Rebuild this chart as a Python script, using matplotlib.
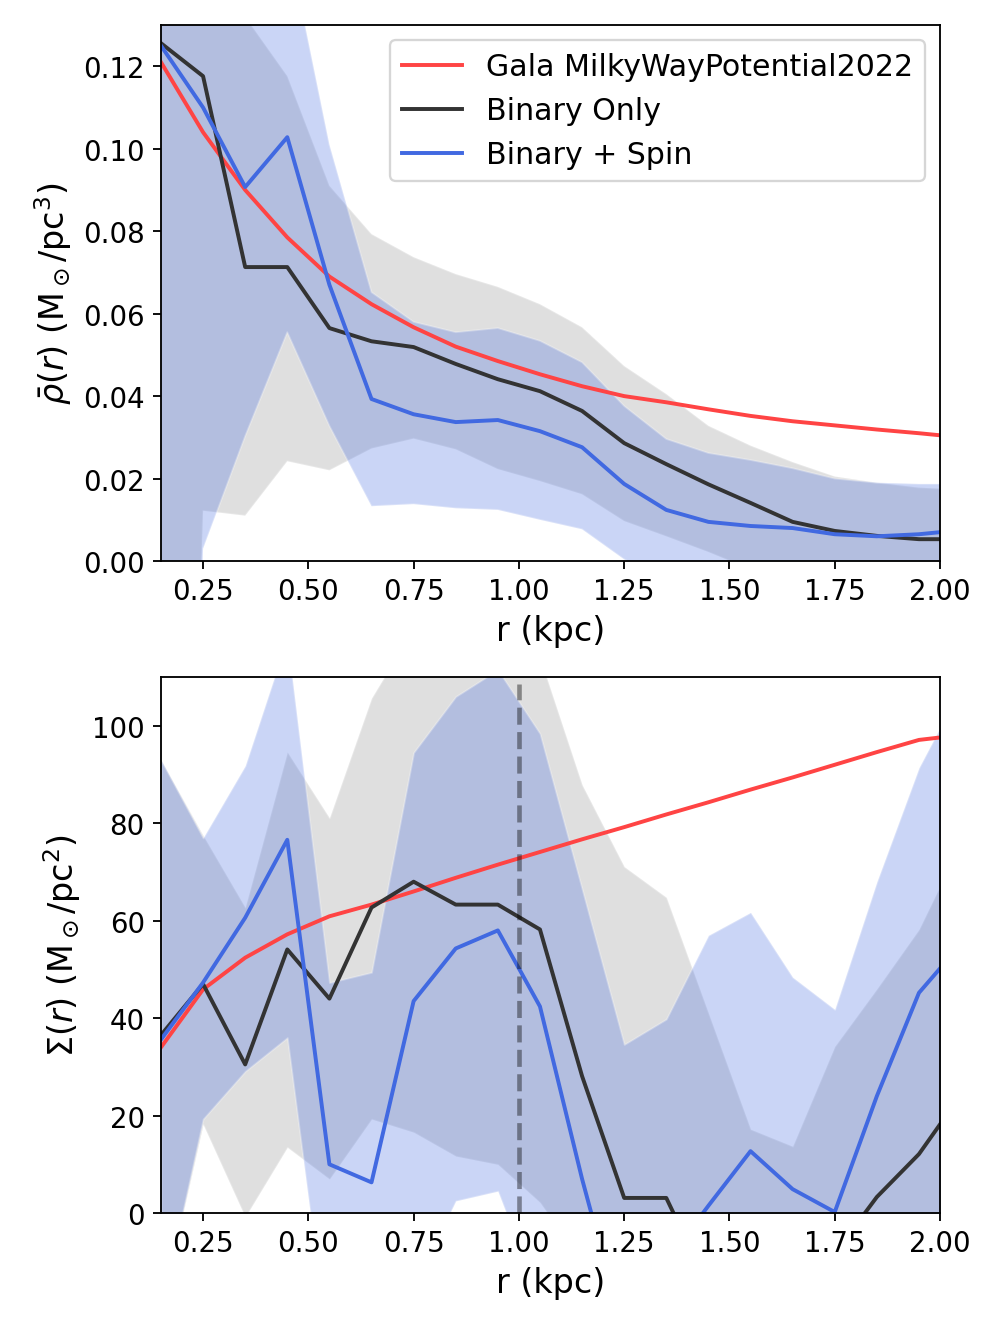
import matplotlib
matplotlib.use("Agg")
import matplotlib.pyplot as plt

# --- Radial bins (kpc) ---
r = [0.15, 0.25, 0.35, 0.45, 0.55, 0.65, 0.75, 0.85, 0.95, 1.05,
     1.15, 1.25, 1.35, 1.45, 1.55, 1.65, 1.75, 1.85, 1.95, 2.05]

# --- Mean density (Msun/pc^3) ---
gala_rho = [0.121, 0.104, 0.090, 0.0785, 0.069, 0.0623, 0.0567, 0.052, 0.0485, 0.0453,
            0.0424, 0.0400, 0.0385, 0.0368, 0.0352, 0.0339, 0.0329, 0.0319, 0.0310, 0.0300]
binary_rho = [0.1256, 0.1176, 0.0713, 0.0713, 0.0565, 0.0533, 0.0519, 0.0478, 0.0441, 0.0412,
              0.0364, 0.0286, 0.0235, 0.0186, 0.0141, 0.0095, 0.0073, 0.0061, 0.0053, 0.0053]
binary_rho_lo = [-0.3, 0.0122, 0.011, 0.0242, 0.022, 0.0273, 0.0297, 0.0271, 0.0223, 0.0194,
                 0.0162, 0.0097, 0.006, 0.0022, -0.002, -0.005, -0.007, -0.008, -0.009, -0.01]
binary_rho_hi = [0.16, 0.15, 0.132, 0.1176, 0.091, 0.0793, 0.0737, 0.0696, 0.0665, 0.0623,
                 0.0567, 0.0473, 0.0405, 0.0328, 0.028, 0.024, 0.0205, 0.019, 0.0178, 0.0173]
spin_rho = [0.125, 0.110, 0.0907, 0.1028, 0.067, 0.0393, 0.0356, 0.0337, 0.0342, 0.0315,
            0.0276, 0.0187, 0.0124, 0.0095, 0.0085, 0.008, 0.0065, 0.006, 0.0065, 0.0075]
spin_rho_lo = [-0.3, 0.003, 0.0303, 0.0555, 0.0328, 0.0133, 0.0138, 0.0128, 0.0124, 0.0100,
               0.0077, 0.0004, -0.005, -0.008, -0.01, -0.012, -0.013, -0.014, -0.015, -0.015]
spin_rho_hi = [0.17, 0.165, 0.16, 0.151, 0.101, 0.0652, 0.058, 0.0555, 0.0565, 0.0534,
               0.0482, 0.0376, 0.0296, 0.0262, 0.0245, 0.0225, 0.0200, 0.019, 0.0187, 0.0187]

# --- Surface density (Msun/pc^2) ---
gala_sigma = [34, 45.9, 52.4, 57.2, 60.9, 63.3, 66, 68.8, 71.5, 74.1,
              76.7, 79.2, 81.8, 84.3, 86.9, 89.4, 92.0, 94.6, 97.1, 98.1]
binary_sigma = [36.5, 47, 30.5, 54.1, 44, 62.7, 68, 63.3, 63.3, 58.2,
                28.1, 3.1, 3.1, -15, -14, -12, -8.3, 3.3, 12.1, 24.3]
binary_sigma_lo = [-20, 18.2, -0.8, 13.5, 7, 19.3, 16.6, 11.7, 10, 2.2,
                   -10, -20, -25, -30, -30, -30, -30, -30, -30, -30]
binary_sigma_hi = [93, 77.5, 62.7, 94.6, 81.1, 105.7, 120, 121, 118, 114,
                   87.9, 71.1, 64.8, 41, 17.2, 13.7, 34.2, 46, 58.2, 76]
spin_sigma = [35.6, 47.3, 60.6, 76.6, 10, 6.3, 43.5, 54.3, 58, 42.4,
              7, -25, -10, 1.5, 12.7, 4.9, 0.2, 24, 45.2, 55.2]
spin_sigma_lo = [-20, 19.3, 29.1, 36, -30, -25, -15.3, 2.5, 4.5, -18,
                 -30, -30, -30, -30, -30, -30, -30, -30, -30, -30]
spin_sigma_hi = [93, 77, 91.8, 118, 47.3, 49.4, 94.5, 106, 111.5, 98.4,
                 66.5, 34.6, 39.8, 57, 61.7, 48.4, 41.8, 68, 91.4, 107.8]

# --- Style ---
c_gala = "#ff4444"
c_bin = "#333333"
c_spin = "royalblue"
tick_fs = 12
label_fs = 14.5
legend_fs = 13

fig = plt.figure(figsize=(6, 8.006), dpi=166)
ax1 = fig.add_axes([0.1616, 0.5771, 0.7822, 0.4033])
ax2 = fig.add_axes([0.1616, 0.0865, 0.7822, 0.4033])

panels = [
    (ax1, gala_rho, binary_rho, binary_rho_lo, binary_rho_hi,
     spin_rho, spin_rho_lo, spin_rho_hi, (0, 0.13),
     r"$\bar{\rho}(r)$ (M$_\odot$/pc$^3$)"),
    (ax2, gala_sigma, binary_sigma, binary_sigma_lo, binary_sigma_hi,
     spin_sigma, spin_sigma_lo, spin_sigma_hi, (0, 110),
     r"$\Sigma(r)$ (M$_\odot$/pc$^2$)"),
]

for ax, gala, b, b_lo, b_hi, s, s_lo, s_hi, ylim, ylabel in panels:
    ax.fill_between(r, b_lo, b_hi, facecolor="gray", alpha=0.25,
                    edgecolor="white", linewidth=0.8)
    ax.fill_between(r, s_lo, s_hi, facecolor=c_spin, alpha=0.28,
                    edgecolor="white", linewidth=0.8)
    ax.plot(r, gala, color=c_gala, lw=1.7, label="Gala MilkyWayPotential2022")
    ax.plot(r, b, color=c_bin, lw=1.7, label="Binary Only")
    ax.plot(r, s, color=c_spin, lw=1.7, label="Binary + Spin")
    ax.set_xlim(0.15, 2.0)
    ax.set_ylim(*ylim)
    ax.set_xlabel("r (kpc)", fontsize=label_fs)
    ax.set_ylabel(ylabel, fontsize=label_fs)
    ax.set_xticks([0.25, 0.5, 0.75, 1.0, 1.25, 1.5, 1.75, 2.0])
    ax.tick_params(labelsize=tick_fs)

ax1.set_yticks([0, 0.02, 0.04, 0.06, 0.08, 0.10, 0.12])
ax1.set_yticklabels(["0.00", "0.02", "0.04", "0.06", "0.08", "0.10", "0.12"])
ax2.set_yticks([0, 20, 40, 60, 80, 100])

ax2.vlines(1.0, 0, 108.5, colors="k", linestyles="--", lw=2, alpha=0.4)

ax1.legend(loc="upper right", fontsize=legend_fs)

fig.savefig("out.png", dpi=166)
